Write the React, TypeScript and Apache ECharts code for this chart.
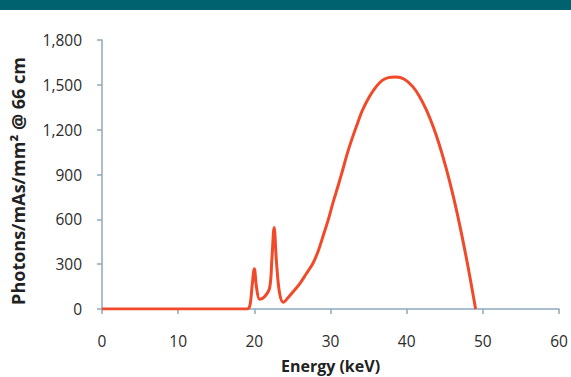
import React, { useEffect, useRef } from "react";
import * as echarts from "echarts";

const energy = [0, 19, 19.4, 19.7, 20.0, 20.3, 20.7, 21.3, 22.0, 22.3, 22.6, 22.9, 23.3, 23.8, 24.5, 25.2, 26, 26.8, 27.7, 28.4, 29, 29.7, 30.3, 31, 31.6, 32.2, 32.9, 33.6, 34.2, 35.1, 36, 36.8, 37.6, 38.6, 39.7, 40.8, 41.7, 42.6, 43.5, 44.3, 45.2, 46.1, 47, 47.8, 48.4, 49.05];
const photons = [0, 0, 20, 150, 270, 140, 65, 80, 140, 330, 545, 320, 110, 45, 80, 122, 172, 234, 306, 390, 484, 596, 707, 825, 930, 1040, 1150, 1250, 1330, 1420, 1488, 1530, 1548, 1552, 1537, 1488, 1421, 1331, 1218, 1097, 939, 758, 553, 351, 188, 0];
const xTicks = [0, 10, 20, 30, 40, 50, 60];
const yMax = 1800;
const yStep = 300;
const yTitle = "Photons/mAs/mm² @ 66 cm";
const xTitle = "Energy (keV)";

export default function App() {
  const ref = useRef<HTMLDivElement>(null);
  useEffect(() => {
    if (!ref.current) return;
    const chart = echarts.init(ref.current, null, { renderer: "svg" });
    const font = "'Open Sans', Lato, sans-serif";
    chart.setOption({
      animation: false,
      backgroundColor: "#ffffff",
      textStyle: { fontFamily: font },
      graphic: [
        { type: "rect", left: 0, top: 0, shape: { width: 571, height: 10 }, style: { fill: "#00626F" } },
        {
          type: "text",
          x: 18,
          y: 181,
          rotation: Math.PI / 2,
          style: {
            text: yTitle,
            fill: "#222",
            font: `bold 18px ${font}`,
            textAlign: "center",
            textVerticalAlign: "middle",
          },
        },
      ],
      grid: { left: 102, right: 12, top: 40, bottom: 68, containLabel: false, outerBoundsMode: "none" },
      xAxis: {
        type: "value",
        min: xTicks[0],
        max: xTicks[xTicks.length - 1],
        interval: 10,
        name: xTitle,
        nameLocation: "middle",
        nameGap: 49,
        nameTextStyle: { fontSize: 16, fontWeight: "bold", color: "#222", fontFamily: font },
        axisLine: { lineStyle: { color: "#8FA8BC", width: 1.5 } },
        axisTick: { show: true, length: 5, lineStyle: { color: "#8FA8BC", width: 1.5 } },
        axisLabel: { fontSize: 15.5, color: "#2b2b2b", margin: 24, fontFamily: font },
        splitLine: { show: false },
      },
      yAxis: {
        type: "value",
        min: 0,
        max: yMax,
        interval: yStep,
        axisLine: { show: true, lineStyle: { color: "#8FA8BC", width: 1.5 } },
        axisTick: { show: true, length: 5, lineStyle: { color: "#8FA8BC", width: 1.5 } },
        axisLabel: {
          fontSize: 15.5,
          color: "#2b2b2b",
          margin: 20,
          fontFamily: font,
          formatter: (v: number) => v.toLocaleString("en-US"),
        },
        splitLine: { show: false },
      },
      series: [
        {
          type: "line",
          data: energy.map((e, i) => [e, photons[i]]),
          smooth: 0.35,
          showSymbol: false,
          lineStyle: { color: "#F04A2A", width: 3 },
          itemStyle: { color: "#F04A2A" },
        },
      ],
    });
    return () => chart.dispose();
  }, []);
  return <div ref={ref} style={{ position: "fixed", left: 0, top: 0, width: 571, height: 377 }} />;
}
